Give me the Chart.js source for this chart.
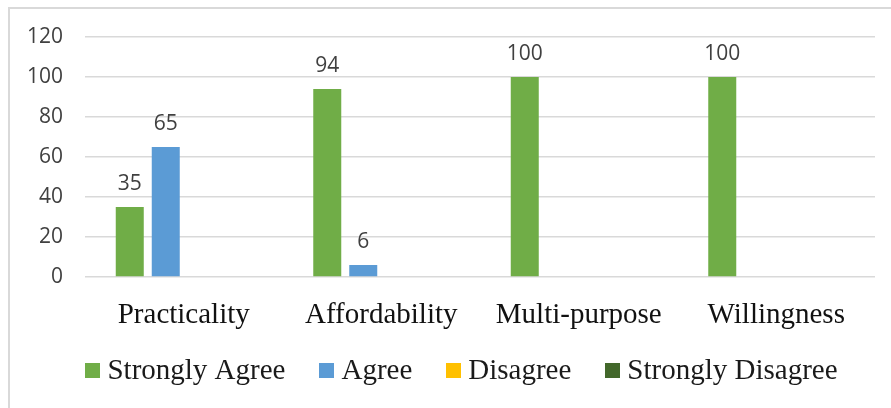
<!DOCTYPE html>
<html>
<head>
<meta charset="utf-8">
<script src="https://cdn.jsdelivr.net/npm/chart.js@4.4.1/dist/chart.umd.min.js"></script>
<style>
  html, body { margin: 0; padding: 0; background: #ffffff; overflow: hidden; }
  #wrap { position: relative; width: 891px; height: 408px; }
  #frame { position: absolute; left: 8px; top: 7px; width: 900px; height: 420px; border: 2px solid #d9d9d9; box-sizing: border-box; }
  #c { position: absolute; left: 0; top: 0; }
</style>
</head>
<body>
<div id="wrap">
  <div id="frame"></div>
  <canvas id="c" width="891" height="408"></canvas>
</div>
<script>
const categories = ["Practicality", "Affordability", "Multi-purpose", "Willingness"];
const seriesNames = ["Strongly Agree", "Agree", "Disagree", "Strongly Disagree"];
const stronglyAgree = [35, 94, 100, 100];
const agree = [65, 6, 0, 0];
const disagree = [0, 0, 0, 0];
const stronglyDisagree = [0, 0, 0, 0];
const yTicks = [0, 20, 40, 60, 80, 100, 120];

const colors = ["#70AD47", "#5B9BD5", "#FFC000", "#43682B"];
const seriesValues = [stronglyAgree, agree, disagree, stronglyDisagree];

const dataLabelPlugin = {
  id: 'dataLabels',
  afterDatasetsDraw(chart) {
    const ctx = chart.ctx;
    ctx.save();
    ctx.font = '21px "Open Sans"';
    ctx.fillStyle = '#404040';
    ctx.textAlign = 'center';
    ctx.textBaseline = 'middle';
    chart.data.datasets.forEach((ds, i) => {
      const meta = chart.getDatasetMeta(i);
      meta.data.forEach((bar, j) => {
        const v = ds.data[j];
        if (v > 0) ctx.fillText(String(v), bar.x, bar.y - 23);
      });
    });
    ctx.restore();
  }
};

// Legend drawn in Excel style: small square, short gap, text.
const legendPlugin = {
  id: 'excelLegend',
  afterDraw(chart) {
    const ctx = chart.ctx;
    const box = 15, gapText = 7, gapItem = 34;
    const centerX = 461.5, centerY = 370.5;
    ctx.save();
    ctx.font = '29px "Liberation Serif"';
    ctx.textBaseline = 'middle';
    ctx.textAlign = 'left';
    const items = chart.data.datasets.map(ds => ({ text: ds.label, color: ds.backgroundColor, w: ctx.measureText(ds.label).width }));
    const total = items.reduce((s, it) => s + box + gapText + it.w, 0) + gapItem * (items.length - 1);
    let x = centerX - total / 2;
    items.forEach(it => {
      ctx.fillStyle = it.color;
      ctx.fillRect(Math.round(x), Math.round(centerY - box / 2), box, box);
      ctx.fillStyle = '#1a1a1a';
      ctx.fillText(it.text, x + box + gapText, centerY + 1);
      x += box + gapText + it.w + gapItem;
    });
    ctx.restore();
  }
};

new Chart(document.getElementById('c'), {
  type: 'bar',
  data: {
    labels: categories,
    datasets: seriesNames.map((name, i) => ({
      label: name,
      data: seriesValues[i],
      backgroundColor: colors[i],
      borderWidth: 0,
      categoryPercentage: 0.729,
      barPercentage: 0.778
    }))
  },
  options: {
    responsive: false,
    animation: false,
    devicePixelRatio: 1,
    layout: { padding: { top: 37, right: 16, left: 0, bottom: 71 } },
    scales: {
      x: {
        grid: { display: false },
        border: { display: false },
        afterFit(scale) { scale.height = 60; },
        ticks: { color: '#111111', font: { family: '"Liberation Serif"', size: 29 }, padding: 13 }
      },
      y: {
        min: 0, max: 120,
        afterBuildTicks(scale) { scale.ticks = yTicks.map(v => ({ value: v })); },
        afterFit(scale) { scale.width = 85; },
        grid: { color: '#d9d9d9', lineWidth: 1.5, drawTicks: false },
        border: { display: false },
        ticks: { color: '#404040', font: { family: '"Open Sans"', size: 21 }, padding: 22 }
      }
    },
    plugins: {
      legend: { display: false },
      tooltip: { enabled: false }
    }
  },
  plugins: [dataLabelPlugin, legendPlugin]
});
</script>
</body>
</html>
